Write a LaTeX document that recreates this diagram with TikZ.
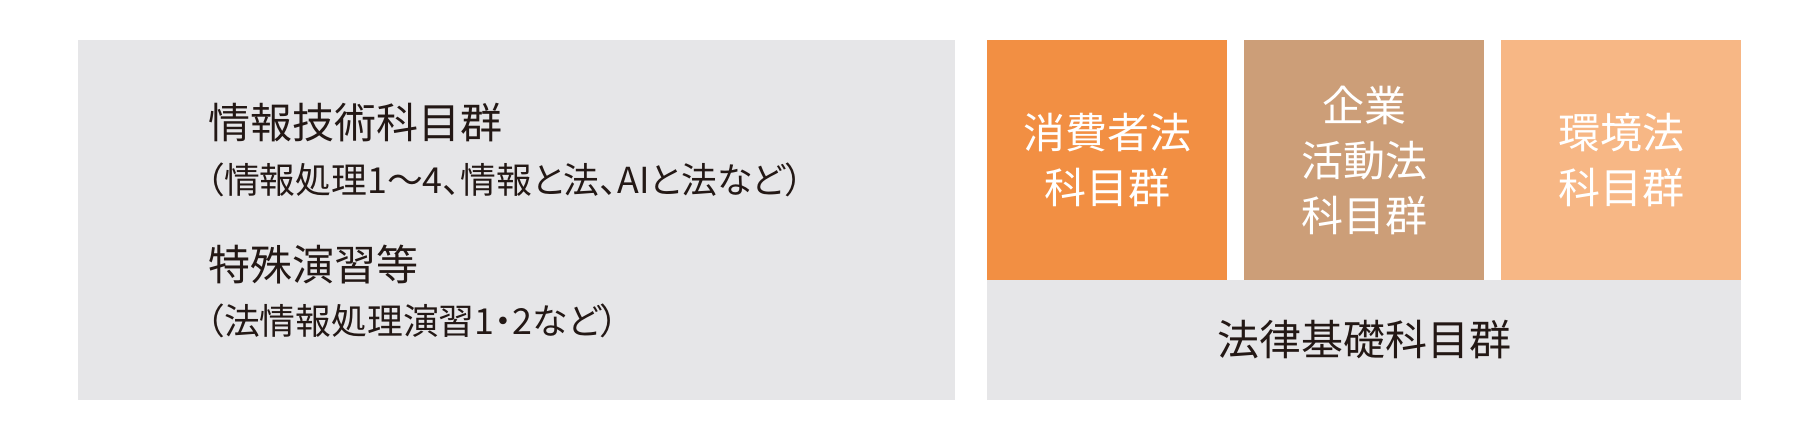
\documentclass[tikz,border=0pt]{standalone}
\usepackage{fontspec}
\newfontfamily\jp{Noto Sans CJK JP}
\newfontfamily\jpp[RawFeature=+palt]{Noto Sans CJK JP}
\definecolor{panelgray}{RGB}{230,230,232}
\definecolor{orangeA}{RGB}{242,143,67}
\definecolor{tanB}{RGB}{204,158,120}
\definecolor{peachC}{RGB}{247,183,133}
\definecolor{inkdark}{RGB}{35,24,21}
\tikzset{
  panel/.style={fill=panelgray, draw=none, inner sep=0pt, outer sep=0pt},
  colbox/.style={draw=none, inner sep=0pt, outer sep=0pt, minimum width=240pt, minimum height=240pt,
    text=white, align=center, font={\jp\fontsize{42}{55}\selectfont}},
  headtext/.style={anchor=west, inner sep=0pt, text=inkdark, font={\jp\fontsize{42}{50}\selectfont}},
  subtext/.style={anchor=west, inner sep=0pt, text=inkdark, font={\jpp\fontsize{35.8}{40}\selectfont}},
}
\begin{document}
\begin{tikzpicture}[x=1pt,y=1pt]
\useasboundingbox (0,0) rectangle (1818,440);
\fill[white] (0,0) rectangle (1818,440);
% left panel
\node[panel, minimum width=877pt, minimum height=360pt, anchor=south west] (leftpanel) at (78,40) {};
\node[headtext] (t1) at (208,317) {情報技術科目群};
\node[subtext] (t2) at (206,260) {（情報処理1～4、情報と法、AIと法など）};
\node[headtext] (t3) at (208,175) {特殊演習等};
\node[subtext] (t4) at (206,119) {（法情報処理演習1・2など）};
% right column boxes
\node[colbox, fill=orangeA, anchor=south west] (consumer) at (987,160) {消費者法\\科目群};
\node[colbox, fill=tanB, anchor=south west] (corporate) at (1244,160) {企業\\活動法\\科目群};
\node[colbox, fill=peachC, anchor=south west] (environ) at (1501,160) {環境法\\科目群};
% base
\node[panel, minimum width=754pt, minimum height=120pt, anchor=south west,
      text=inkdark, font={\jp\fontsize{42}{50}\selectfont}] (base) at (987,40) {法律基礎科目群};
\end{tikzpicture}
\end{document}
